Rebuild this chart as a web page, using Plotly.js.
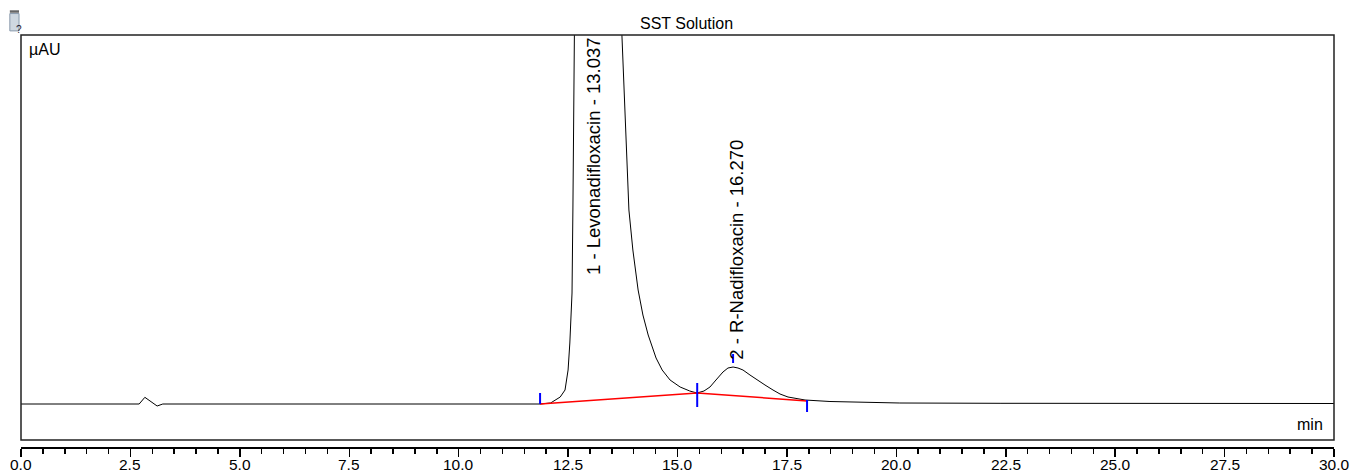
<!DOCTYPE html>
<html>
<head>
<meta charset="utf-8">
<script src="https://cdn.plot.ly/plotly-3.0.1.min.js"></script>
<style>html,body{margin:0;padding:0;background:#fff;}#chart{width:1353px;height:471px;}</style>
</head>
<body>
<div id="chart"></div>
<script>
// Chromatogram signal (time in min, signal in arbitrary µAU units relative to baseline)
const timeMin = [0, 2.70, 2.83, 2.95, 3.11, 3.24, 11.86, 12.10, 12.32, 12.43, 12.50, 12.54, 12.59, 12.61, 12.68, 13.04,
  13.73, 13.89, 13.98, 14.10, 14.21, 14.33, 14.51, 14.65, 14.83, 15.06, 15.28, 15.445,
  15.605, 15.742, 15.879, 16.039, 16.153, 16.27, 16.382, 16.496, 16.656, 16.816, 16.999, 17.182, 17.342, 17.525, 17.914,
  18.484, 19.17, 20.08, 22.37, 30.0];
const signal = [0, 0, 6.7, 3, -2, 0, 0, 1, 7, 14, 34, 61, 111, 194, 369, 2400,
  369, 194, 154, 114, 89, 69, 46, 34, 24, 17, 13, 11,
  13, 17, 24, 32, 36, 37, 36, 34, 29, 24, 19, 14, 10, 7, 4,
  2.5, 1.7, 1, 0.7, 0.5];

// Integration baseline (red)
const baseTime = [11.86, 15.45, 17.96];
const baseSignal = [0, 11, 3];

// Peak delimiter ticks (blue)
const delimTime = [11.86, 15.45, 17.96, 16.27];
const delimLow = [0, -3, -8, 41];
const delimHigh = [11, 21, 4, 50];

// Peak labels
const peakNames = ["1 - Levonadifloxacin - 13.037", "2 - R-Nadifloxacin - 16.270"];
const labelTime = [13.07, 16.33];
const labelSignal = [127, 42];

const xTickVals = [0, 2.5, 5, 7.5, 10, 12.5, 15, 17.5, 20, 22.5, 25, 27.5, 30];
const xTickText = ["0.0", "2.5", "5.0", "7.5", "10.0", "12.5", "15.0", "17.5", "20.0", "22.5", "25.0", "27.5", "30.0"];

const FONT = "Liberation Sans, Arial, sans-serif";

const traces = [
  {x: timeMin, y: signal, type: "scatter", mode: "lines", line: {color: "#000", width: 1}, hoverinfo: "skip"},
  {x: baseTime, y: baseSignal, type: "scatter", mode: "lines", line: {color: "#ff0000", width: 1.5}, hoverinfo: "skip"}
];
for (let i = 0; i < delimTime.length; i++) {
  traces.push({x: [delimTime[i], delimTime[i]], y: [delimLow[i], delimHigh[i]], type: "scatter", mode: "lines",
    line: {color: "#0000ff", width: 2}, hoverinfo: "skip"});
}

const annotations = peakNames.map((t, i) => ({
  x: labelTime[i], y: labelSignal[i], xref: "x", yref: "y", text: t, showarrow: false, textangle: -90,
  xanchor: "center", yanchor: "bottom", font: {family: FONT, size: 18.5, color: "#000"}
}));
annotations.push({x: 0.5065, y: 1, xref: "paper", yref: "paper", yanchor: "bottom", yshift: 1, text: "SST Solution", showarrow: false,
  font: {family: FONT, size: 16, color: "#000"}});
annotations.push({x: 0.0045, y: 0.9636, xref: "paper", yref: "paper", xanchor: "left", yanchor: "middle", text: "µAU", showarrow: false,
  font: {family: FONT, size: 16, color: "#000"}});
annotations.push({x: 0.9931, y: 0.0534, xref: "paper", yref: "paper", xanchor: "right", yanchor: "middle", text: "min", showarrow: false,
  font: {family: FONT, size: 16, color: "#000"}});
xTickVals.forEach((v, i) => {
  annotations.push({x: v, y: 0, xref: "x", yref: "paper", xanchor: "center", yanchor: "top", yshift: -9,
    height: 14, valign: "middle", borderpad: 0,
    text: xTickText[i], showarrow: false, font: {family: FONT, size: 15.5, color: "#000"}});
});
annotations.push({x: -0.005, y: 1.031, xref: "paper", yref: "paper", text: "?", showarrow: false,
  font: {family: FONT, size: 10, color: "#223"}});

const layout = {
  width: 1353, height: 471,
  margin: {l: 21, r: 19, t: 35, b: 24, pad: 0},
  paper_bgcolor: "#fff", plot_bgcolor: "#fff",
  showlegend: false,
  xaxis: {range: [0, 30], tickvals: xTickVals, showticklabels: false, ticks: "outside", ticklen: 8, tickwidth: 1.5, tickcolor: "#000",
    showline: true, linecolor: "#000", linewidth: 1.5, showgrid: false, zeroline: false, fixedrange: true,
    minor: {dtick: 0.5, tick0: 0, ticks: "outside", ticklen: 5, tickwidth: 1.5, tickcolor: "#000", showgrid: false}},
  yaxis: {range: [-43, 369], visible: false, fixedrange: true},
  shapes: [
    {type: "rect", xref: "paper", yref: "paper", x0: 0, x1: 1, y0: 0.017, y1: 1, line: {color: "#222", width: 1.5}},
    {type: "rect", xref: "paper", yref: "paper", x0: -0.0085, x1: -0.0015, y0: 1.054, y1: 1.06, fillcolor: "#666", line: {width: 0}},
    {type: "rect", xref: "paper", yref: "paper", x0: -0.0085, x1: -0.0015, y0: 1.01, y1: 1.052, fillcolor: "#cfd8e0", line: {color: "#8899aa", width: 1}}
  ],
  annotations: annotations
};

Plotly.newPlot("chart", traces, layout, {displayModeBar: false, staticPlot: true});
</script>
</body>
</html>
